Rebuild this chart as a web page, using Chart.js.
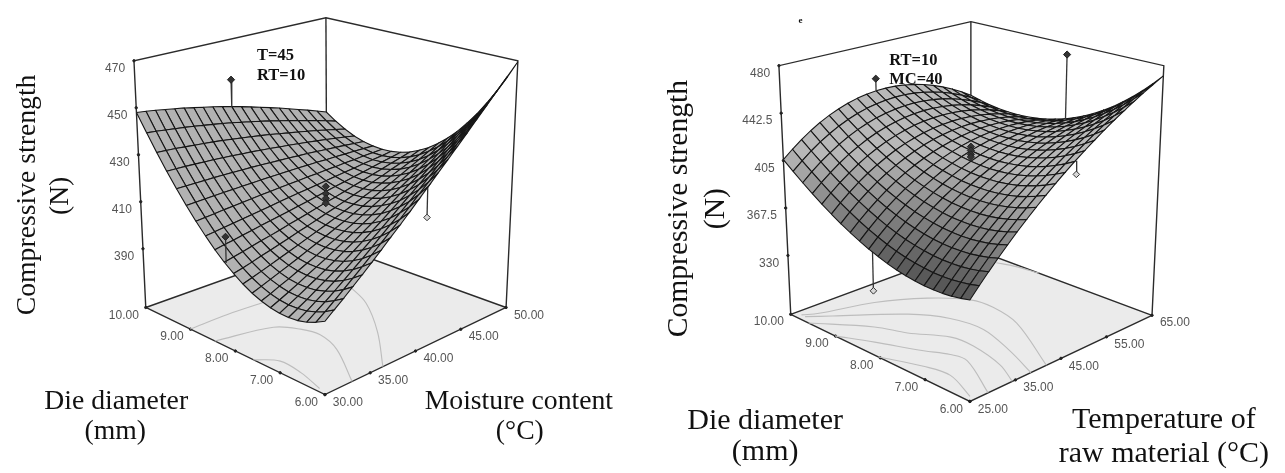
<!DOCTYPE html>
<html>
<head>
<meta charset="utf-8">
<title>Compressive strength response surfaces</title>
<style>
  html, body { margin: 0; padding: 0; background: #fff; overflow: hidden; }
  canvas { position: absolute; top: 0; }
</style>
<script src="https://cdn.jsdelivr.net/npm/chart.js@4"></script>
</head>
<body>
<canvas id="graficaMoisture" width="642" height="473" style="left:0"></canvas>
<canvas id="graficaTemperature" width="643" height="473" style="left:642px"></canvas>
<script>
// Values.
var dieValues = [10, 9.8, 9.6, 9.4, 9.2, 9, 8.8, 8.6, 8.4, 8.2, 8, 7.8, 7.6, 7.4, 7.2, 7, 6.8, 6.6, 6.4, 6.2, 6];
var moistureValues = [30, 31, 32, 33, 34, 35, 36, 37, 38, 39, 40, 41, 42, 43, 44, 45, 46, 47, 48, 49, 50];
var temperatureValues = [25, 27, 29, 31, 33, 35, 37, 39, 41, 43, 45, 47, 49, 51, 53, 55, 57, 59, 61, 63, 65];

var dieTicks = [10, 9, 8, 7, 6];
var dieTickLabels = ['10.00', '9.00', '8.00', '7.00', '6.00'];
var moistureTicks = [30, 35, 40, 45, 50];
var moistureTickLabels = ['30.00', '35.00', '40.00', '45.00', '50.00'];
var temperatureTicks = [25, 35, 45, 55, 65];
var temperatureTickLabels = ['25.00', '35.00', '45.00', '55.00', '65.00'];
var strengthTicksA = [470, 450, 430, 410, 390];
var strengthTickLabelsA = ['470', '450', '430', '410', '390'];
var strengthTicksB = [480, 442.5, 405, 367.5, 330];
var strengthTickLabelsB = ['480', '442.5', '405', '367.5', '330'];

// One row per die diameter, one column per moisture content.
var strengthMoisture = [
[448.0,447.5,446.9,446.2,445.5,444.8,443.9,443.0,442.1,441.1,440.0,438.9,437.7,436.4,435.1,433.8,432.3,430.8,429.3,427.7,426.0],
[440.6,440.2,439.7,439.2,438.7,438.1,437.4,436.7,436.0,435.2,434.3,433.4,432.5,431.5,430.4,429.3,428.1,426.9,425.7,424.4,423.0],
[433.6,433.4,433.1,432.7,432.3,431.9,431.5,431.0,430.4,429.8,429.2,428.5,427.8,427.0,426.2,425.4,424.5,423.6,422.6,421.6,420.6],
[427.1,427.0,426.9,426.7,426.5,426.3,426.0,425.7,425.3,425.0,424.5,424.1,423.6,423.1,422.6,422.0,421.4,420.8,420.1,419.4,418.6],
[421.2,421.2,421.2,421.2,421.2,421.1,421.0,420.9,420.8,420.6,420.4,420.2,420.0,419.7,419.5,419.2,418.8,418.5,418.1,417.7,417.3],
[415.7,415.9,416.0,416.2,416.3,416.4,416.5,416.6,416.7,416.8,416.8,416.9,416.9,416.9,416.9,416.8,416.8,416.7,416.7,416.6,416.5],
[410.7,411.0,411.3,411.7,412.0,412.3,412.6,412.9,413.2,413.5,413.7,414.0,414.3,414.5,414.8,415.0,415.3,415.5,415.8,416.0,416.2],
[406.2,406.6,407.1,407.6,408.1,408.6,409.1,409.6,410.2,410.7,411.2,411.7,412.2,412.7,413.3,413.8,414.3,414.9,415.4,415.9,416.5],
[402.1,402.8,403.4,404.1,404.8,405.5,406.2,406.9,407.6,408.4,409.1,409.9,410.7,411.5,412.3,413.1,413.9,414.7,415.6,416.4,417.3],
[398.6,399.4,400.2,401.1,402.0,402.8,403.7,404.7,405.6,406.6,407.6,408.6,409.6,410.7,411.8,412.9,414.0,415.1,416.3,417.4,418.6],
[395.6,396.5,397.5,398.6,399.6,400.7,401.8,403.0,404.1,405.3,406.6,407.8,409.1,410.5,411.8,413.2,414.6,416.1,417.5,419.0,420.6],
[393.0,394.1,395.3,396.5,397.8,399.1,400.4,401.8,403.2,404.6,406.1,407.6,409.2,410.8,412.4,414.1,415.8,417.5,419.3,421.1,423.0],
[390.9,392.2,393.6,395.0,396.4,397.9,399.5,401.1,402.7,404.4,406.1,407.9,409.7,411.6,413.5,415.5,417.5,419.5,421.6,423.8,426.0],
[389.4,390.8,392.4,393.9,395.6,397.3,399.0,400.9,402.7,404.7,406.6,408.7,410.8,412.9,415.1,417.4,419.7,422.1,424.5,427.0,429.5],
[388.3,389.9,391.6,393.4,395.3,397.2,399.1,401.2,403.3,405.5,407.7,410.0,412.4,414.8,417.3,419.8,422.5,425.2,427.9,430.7,433.6],
[387.7,389.5,391.4,393.4,395.4,397.5,399.7,402.0,404.3,406.8,409.2,411.8,414.5,417.2,420.0,422.8,425.8,428.8,431.9,435.0,438.3],
[387.6,389.6,391.6,393.8,396.1,398.4,400.8,403.3,405.9,408.6,411.3,414.2,417.1,420.1,423.2,426.4,429.6,432.9,436.4,439.9,443.4],
[387.9,390.1,392.4,394.8,397.2,399.8,402.4,405.2,408.0,410.9,413.9,417.1,420.3,423.5,426.9,430.4,434.0,437.6,441.4,445.2,449.2],
[388.8,391.2,393.6,396.2,398.9,401.7,404.5,407.5,410.6,413.8,417.1,420.4,423.9,427.5,431.2,435.0,438.9,442.9,447.0,451.1,455.4],
[390.2,392.7,395.4,398.2,401.1,404.1,407.2,410.4,413.7,417.1,420.7,424.4,428.1,432.0,436.0,440.1,444.3,448.6,453.1,457.6,462.2],
[392.0,394.8,397.6,400.6,403.7,406.9,410.3,413.8,417.3,421.0,424.9,428.8,432.9,437.0,441.3,445.7,450.3,454.9,459.7,464.6,469.6]
];

// One row per die diameter, one column per raw material temperature.
var strengthTemperature = [
[405.7,411.9,417.6,422.6,427.1,430.9,434.1,436.7,438.8,440.2,441.0,441.2,440.8,439.8,438.2,436.0,433.2,429.8,425.8,421.2,416.0],
[399.0,405.2,410.9,416.0,420.5,424.5,427.8,430.6,432.8,434.4,435.4,435.9,435.8,435.1,433.8,431.9,429.5,426.4,422.8,418.6,413.9],
[392.7,399.0,404.7,409.8,414.4,418.5,422.0,424.9,427.3,429.1,430.3,431.0,431.2,430.8,429.8,428.3,426.2,423.5,420.3,416.6,412.2],
[386.8,393.1,398.9,404.1,408.8,412.9,416.6,419.7,422.2,424.2,425.7,426.7,427.1,426.9,426.3,425.1,423.4,421.1,418.3,415.0,411.1],
[381.4,387.7,393.5,398.8,403.6,407.9,411.6,414.9,417.6,419.8,421.6,422.8,423.4,423.6,423.3,422.5,421.1,419.2,416.9,414.0,410.6],
[376.4,382.7,388.6,394.0,398.9,403.2,407.1,410.6,413.5,415.9,417.9,419.3,420.3,420.8,420.8,420.3,419.3,417.8,415.9,413.4,410.5],
[371.8,378.2,384.1,389.6,394.6,399.1,403.1,406.7,409.8,412.5,414.7,416.4,417.7,418.4,418.8,418.6,418.0,417.0,415.4,413.4,411.0],
[367.7,374.1,380.1,385.6,390.7,395.4,399.6,403.3,406.6,409.5,411.9,413.9,415.5,416.6,417.3,417.5,417.3,416.6,415.5,413.9,411.9],
[364.0,370.4,376.5,382.1,387.3,392.1,396.4,400.4,403.9,407.0,409.7,412.0,413.8,415.2,416.2,416.8,417.0,416.7,416.1,415.0,413.4],
[360.7,367.2,373.3,379.0,384.4,389.3,393.8,397.9,401.7,405.0,407.9,410.5,412.6,414.4,415.7,416.7,417.2,417.4,417.1,416.5,415.5],
[357.9,364.4,370.6,376.4,381.8,386.9,391.6,395.9,399.9,403.4,406.6,409.4,411.9,414.0,415.7,417.0,417.9,418.5,418.7,418.5,418.0],
[355.4,362.0,368.3,374.2,379.8,385.0,389.9,394.4,398.5,402.3,405.8,408.9,411.7,414.1,416.1,417.8,419.2,420.2,420.8,421.1,421.1],
[353.4,360.1,366.5,372.5,378.2,383.5,388.6,393.3,397.7,401.7,405.4,408.8,411.9,414.6,417.1,419.1,420.9,422.3,423.4,424.2,424.6],
[351.9,358.6,365.1,371.2,377.0,382.5,387.8,392.7,397.3,401.6,405.6,409.3,412.6,415.7,418.5,421.0,423.1,425.0,426.5,427.8,428.7],
[350.8,357.6,364.1,370.3,376.3,382.0,387.4,392.5,397.3,401.9,406.2,410.2,413.9,417.3,420.4,423.3,425.9,428.2,430.2,431.9,433.4],
[350.1,356.9,363.6,369.9,376.0,381.9,387.5,392.8,397.9,402.7,407.2,411.5,415.6,419.3,422.9,426.1,429.1,431.8,434.3,436.5,438.5],
[349.8,356.7,363.5,370.0,376.2,382.2,388.0,393.6,398.9,403.9,408.8,413.4,417.7,421.9,425.8,429.4,432.8,436.0,439.0,441.7,444.2],
[349.9,357.0,363.8,370.4,376.9,383.0,389.0,394.8,400.3,405.7,410.8,415.7,420.4,424.9,429.2,433.2,437.1,440.7,444.1,447.4,450.3],
[350.5,357.7,364.6,371.4,377.9,384.3,390.5,396.5,402.3,407.9,413.3,418.5,423.6,428.4,433.1,437.6,441.8,445.9,449.8,453.5,457.0],
[351.6,358.8,365.8,372.7,379.5,386.0,392.4,398.6,404.7,410.6,416.3,421.8,427.2,432.4,437.5,442.4,447.1,451.6,456.0,460.2,464.3],
[353.0,360.3,367.5,374.5,381.4,388.2,394.8,401.2,407.5,413.7,419.7,425.6,431.3,436.9,442.4,447.7,452.8,457.8,462.7,467.4,472.0]
];

// Floor contours, as die diameter and second factor pairs.
var contourDieA1 = [9.01, 9.01, 8.96];
var contourMoistureA1 = [30, 34.2, 37.9];
var contourDieA2 = [8.46, 8.2, 7.86, 7.5, 6.95, 6];
var contourMoistureA2 = [30, 35.2, 36.5, 36.9, 36, 33];
var contourDieA3 = [7.6, 7.28, 6.78, 6.2];
var contourMoistureA3 = [30, 31.4, 31.2, 30.4];
var contourDieA4 = [8.46, 7.81, 6.93, 6];
var contourMoistureA4 = [44.9, 43.5, 40.4, 36.4];

var contourDieB1 = [9.88, 9.75, 9.48, 9.04, 8.53, 8.08, 7.39, 6];
var contourTempB1 = [26.2, 28.8, 38.4, 45.8, 50.2, 50.7, 49.1, 41.8];
var contourDieB2 = [9.8, 9.55, 8.82, 8.26, 7.61, 6.77, 6];
var contourTempB2 = [26.2, 29.7, 39.3, 43, 43.9, 41.4, 38.4];
var contourDieB3 = [9.6, 8.84, 8.34, 7.77, 7.3, 6.53, 6];
var contourTempB3 = [25, 32, 34.4, 38.3, 38.6, 36.9, 34.3];
var contourDieB4 = [9.01, 8.45, 7.72, 7.34, 7, 6];
var contourTempB4 = [25, 28.2, 31.8, 33.9, 34.3, 29];
var contourDieB5 = [8.04, 7.34, 6.83, 6.12];
var contourTempB5 = [25, 28, 28.9, 26.2];
var contourDieB6 = [9.28, 8.96, 8.5];
var contourTempB6 = [63.4, 64.4, 65];

// Design points: die, second factor, measured strength.
var designDieA = [10, 8.16, 7.8];
var designMoistureA = [40, 30, 50];
var designStrengthA = [452, 409, 392];
var designFilledA = [true, true, false];
var centreStrengthA = [411, 413, 415, 418];

var designDieB = [10, 8, 6, 8.12];
var designTempB = [45, 65, 47.4, 25];
var designStrengthB = [451, 471, 415.6, 331];
var designFilledB = [true, true, false, false];
var centreStrengthB = [410, 412, 415, 418];

// Paints text through the chart's own scales.
var textPlugin = {
    id: 'textos',
    afterDraw: function (chart) {
        var ctx = chart.ctx;
        var xs = chart.scales.x;
        var ys = chart.scales.y;
        var textos = chart.options.plugins.textos.items;
        for (var i = 0; i < textos.length; i++) {
            var t = textos[i];
            ctx.save();
            ctx.translate(xs.getPixelForValue(t.x), ys.getPixelForValue(t.y));
            if (t.rot) {
                ctx.rotate(t.rot);
            }
            ctx.font = t.font;
            ctx.fillStyle = t.color;
            ctx.textAlign = t.align;
            ctx.textBaseline = t.base;
            ctx.fillText(t.text, 0, 0);
            ctx.restore();
        }
    }
};

// Maps die, second factor and strength to the page with the box corners.
function makeProjection(box) {
    return function (die, factor, strength) {
        var u = (box.dieMax - die) / (box.dieMax - box.dieMin);
        var v = (factor - box.factorMin) / (box.factorMax - box.factorMin);
        var w = (strength - box.zMin) / (box.zMax - box.zMin);
        var a = (1 - u) * (1 - v), b = u * (1 - v), c = (1 - u) * v, d = u * v;
        var fx = a * box.L[0] + b * box.F[0] + c * box.B[0] + d * box.R[0];
        var fy = a * box.L[1] + b * box.F[1] + c * box.B[1] + d * box.R[1];
        var tx = a * box.TL[0] + b * box.TF[0] + c * box.TB[0] + d * box.TR[0];
        var ty = a * box.TL[1] + b * box.TF[1] + c * box.TB[1] + d * box.TR[1];
        return { x: fx + (tx - fx) * w, y: fy + (ty - fy) * w };
    };
}

function lineSet(points, color, width) {
    return {
        type: 'scatter', data: points, showLine: true, fill: false,
        borderColor: color, borderWidth: width, pointRadius: 0,
        tension: 0, clip: false
    };
}

function areaSet(points, fillColor, color, width) {
    return {
        type: 'scatter', data: points, showLine: true, fill: 'shape',
        backgroundColor: fillColor, borderColor: color, borderWidth: width,
        pointRadius: 0, tension: 0, clip: false
    };
}

function markSet(points, style, radius, fillColor, color) {
    return {
        type: 'scatter', data: points, showLine: false, pointStyle: style,
        pointRadius: radius, backgroundColor: fillColor, borderColor: color,
        borderWidth: 1, clip: false
    };
}

function grayFor(cfg, strength) {
    var g = cfg.shade(strength);
    return 'rgb(' + g + ',' + g + ',' + g + ')';
}

function drawPanel(cfg) {
    var box = cfg.box;
    var p = makeProjection(box);
    var dMax = box.dieMax, dMin = box.dieMin, fMin = box.factorMin, fMax = box.factorMax;
    var zMin = box.zMin, zMax = box.zMax;
    var over = [], under = [], quads = [];
    var frame = '#2b2b2b';

    // Design points above the surface go over it, the others stay below.
    for (var n = 0; n < cfg.designDie.length; n++) {
        var dd = cfg.designDie[n], df = cfg.designFactor[n], ds = cfg.designStrength[n];
        var top = surfaceAt(cfg, dd, df);
        var stem = lineSet([p(dd, df, ds), p(dd, df, top)], '#333', 1.3);
        if (cfg.designFilled[n]) {
            over.push(markSet([p(dd, df, ds)], 'rectRot', 3.6, '#333', '#222'));
            over.push(stem);
        } else {
            under.push(markSet([p(dd, df, ds)], 'rectRot', 3.3, '#d8d8d8', '#333'));
            under.push(stem);
        }
    }
    for (var c = 0; c < cfg.centre.length; c++) {
        over.push(markSet([p((dMax + dMin) / 2, (fMax + fMin) / 2, cfg.centre[c])], 'rectRot', 3.6, '#333', '#222'));
    }

    // Surface cells, nearest first since the first dataset paints last.
    for (var i = 0; i < cfg.die.length - 1; i++) {
        for (var j = 0; j < cfg.factor.length - 1; j++) {
            quads.push({ depth: i - j, i: i, j: j });
        }
    }
    quads.sort(function (a, b) { return b.depth - a.depth; });
    var cells = quads.map(function (q) {
        var i = q.i, j = q.j;
        var z = cfg.strength;
        var mean = (z[i][j] + z[i + 1][j] + z[i + 1][j + 1] + z[i][j + 1]) / 4;
        return areaSet([
            p(cfg.die[i], cfg.factor[j], z[i][j]),
            p(cfg.die[i + 1], cfg.factor[j], z[i + 1][j]),
            p(cfg.die[i + 1], cfg.factor[j + 1], z[i + 1][j + 1]),
            p(cfg.die[i], cfg.factor[j + 1], z[i][j + 1]),
            p(cfg.die[i], cfg.factor[j], z[i][j])
        ], grayFor(cfg, mean), '#161616', cfg.meshWidth);
    });

    for (var k = 0; k < cfg.contours.length; k++) {
        var pts = [];
        for (var m = 0; m < cfg.contours[k][0].length; m++) {
            pts.push(p(cfg.contours[k][0][m], cfg.contours[k][1][m], zMin));
        }
        var line = lineSet(pts, '#bdbdbd', 1.1);
        line.tension = 0.35;
        under.push(line);
    }

    // Box edges, floor and tick marks.
    var walls = [
        lineSet([p(dMax, fMin, zMin), p(dMin, fMin, zMin), p(dMin, fMax, zMin)], frame, 1.4),
        lineSet([p(dMax, fMin, zMin), p(dMax, fMax, zMin), p(dMin, fMax, zMin)], frame, 1.4),
        lineSet([p(dMax, fMin, zMin), p(dMax, fMin, zMax), p(dMax, fMax, zMax), p(dMin, fMax, zMax), p(dMin, fMax, zMin)], frame, 1.4),
        lineSet([p(dMax, fMax, zMin), p(dMax, fMax, zMax)], frame, 1.4)
    ];
    var ticks = [], items = [];
    var labelFont = '12px "Liberation Sans"';
    var labelGray = '#555';
    cfg.dieTicks.forEach(function (d, t) {
        var q = p(d, fMin, zMin);
        ticks.push(q);
        items.push({ text: cfg.dieLabels[t], x: q.x - 7, y: q.y + 8, font: labelFont, color: labelGray, align: 'right', base: 'middle' });
    });
    cfg.factorTicks.forEach(function (f, t) {
        var q = p(dMin, f, zMin);
        ticks.push(q);
        items.push({ text: cfg.factorLabels[t], x: q.x + 8, y: q.y + 8, font: labelFont, color: labelGray, align: 'left', base: 'middle' });
    });
    cfg.strengthTicks.forEach(function (s, t) {
        var q = p(dMax, fMin, s);
        ticks.push(q);
        items.push({ text: cfg.strengthLabels[t], x: q.x - 9, y: q.y + 8, font: labelFont, color: labelGray, align: 'right', base: 'middle' });
    });
    var floor = areaSet([p(dMax, fMin, zMin), p(dMin, fMin, zMin), p(dMin, fMax, zMin), p(dMax, fMax, zMin), p(dMax, fMin, zMin)], '#ebebeb', '#ebebeb', 0);

    new Chart(document.getElementById(cfg.canvas), {
        type: 'scatter',
        data: {
            datasets: over.concat(cells, under, [markSet(ticks, 'circle', 1.2, '#222', '#222')], walls, [floor])
        },
        plugins: [textPlugin],
        options: {
            responsive: false,
            animation: false,
            devicePixelRatio: 1,
            events: [],
            layout: { padding: 0 },
            plugins: {
                legend: { display: false },
                tooltip: { enabled: false },
                textos: { items: items.concat(cfg.titles) }
            },
            scales: {
                x: { type: 'linear', display: false, min: cfg.xMin, max: cfg.xMax },
                y: { type: 'linear', display: false, min: 0, max: 473, reverse: true }
            }
        }
    });
}

// Takes the surface value at a design point from the nearest grid node.
function surfaceAt(cfg, die, factor) {
    var i = nearest(cfg.die, die);
    var j = nearest(cfg.factor, factor);
    return cfg.strength[i][j];
}

function nearest(list, value) {
    var best = 0;
    for (var i = 1; i < list.length; i++) {
        if (Math.abs(list[i] - value) < Math.abs(list[best] - value)) {
            best = i;
        }
    }
    return best;
}

function title(text, x, y, size, align, rot, bold) {
    return {
        text: text, x: x, y: y, rot: rot || 0, align: align, base: 'alphabetic', color: '#111',
        font: (bold ? 'bold ' : '') + size + 'px "Liberation Serif"'
    };
}

var up = -Math.PI / 2;

drawPanel({
    canvas: 'graficaMoisture', xMin: 0, xMax: 642,
    box: {
        dieMax: 10, dieMin: 6, factorMin: 30, factorMax: 50, zMin: 365, zMax: 470,
        L: [143, 309], F: [325, 398], B: [327, 243], R: [509, 309],
        TL: [131, 57], TF: [325, 107], TB: [326, 13], TR: [521, 57]
    },
    die: dieValues, factor: moistureValues, strength: strengthMoisture,
    dieTicks: dieTicks, dieLabels: dieTickLabels,
    factorTicks: moistureTicks, factorLabels: moistureTickLabels,
    strengthTicks: strengthTicksA, strengthLabels: strengthTickLabelsA,
    designDie: designDieA, designFactor: designMoistureA, designStrength: designStrengthA,
    designFilled: designFilledA, centre: centreStrengthA,
    contours: [[contourDieA1, contourMoistureA1], [contourDieA2, contourMoistureA2],
        [contourDieA3, contourMoistureA3], [contourDieA4, contourMoistureA4]],
    meshWidth: 1.1,
    shade: function () { return 178; },
    titles: [
        title('Compressive strength', 30, 194, 27.7, 'center', up),
        title('(N)', 64, 195, 27.7, 'center', up),
        title('Die diameter', 113, 413, 27.7, 'center'),
        title('(mm)', 112, 443, 27.7, 'center'),
        title('Moisture content', 522, 413, 27.7, 'center'),
        title('(°C)', 523, 443, 27.7, 'center'),
        title('T=45', 256, 56, 16.5, 'left', 0, true),
        title('RT=10', 256, 77, 16.5, 'left', 0, true)
    ]
});

drawPanel({
    canvas: 'graficaTemperature', xMin: 642, xMax: 1285,
    box: {
        dieMax: 10, dieMin: 6, factorMin: 25, factorMax: 65, zMin: 283.5, zMax: 480,
        L: [788, 316], F: [970, 405], B: [971, 248], R: [1155, 317],
        TL: [776, 62], TF: [970, 112], TB: [971, 17], TR: [1167, 62]
    },
    die: dieValues, factor: temperatureValues, strength: strengthTemperature,
    dieTicks: dieTicks, dieLabels: dieTickLabels,
    factorTicks: temperatureTicks, factorLabels: temperatureTickLabels,
    strengthTicks: strengthTicksB, strengthLabels: strengthTickLabelsB,
    designDie: designDieB, designFactor: designTempB, designStrength: designStrengthB,
    designFilled: designFilledB, centre: centreStrengthB,
    contours: [[contourDieB1, contourTempB1], [contourDieB2, contourTempB2],
        [contourDieB3, contourTempB3], [contourDieB4, contourTempB4],
        [contourDieB5, contourTempB5], [contourDieB6, contourTempB6]],
    meshWidth: 1.1,
    shade: function (z) { return z > 410 ? 184 : Math.round(184 - (410 - z) * 1.7); },
    titles: [
        title('Compressive strength', 683, 208, 29.6, 'center', up),
        title('(N)', 720, 208, 29.6, 'center', up),
        title('Die diameter', 762, 433, 30, 'center'),
        title('(mm)', 762, 465, 30, 'center'),
        title('Temperature of', 1167, 432, 30, 'center'),
        title('raw material (°C)', 1167, 467, 30, 'center'),
        title('RT=10', 888, 61, 16.5, 'left', 0, true),
        title('MC=40', 888, 81, 16.5, 'left', 0, true),
        title('e', 798, 18, 9, 'center', 0, true)
    ]
});
</script>
</body>
</html>
